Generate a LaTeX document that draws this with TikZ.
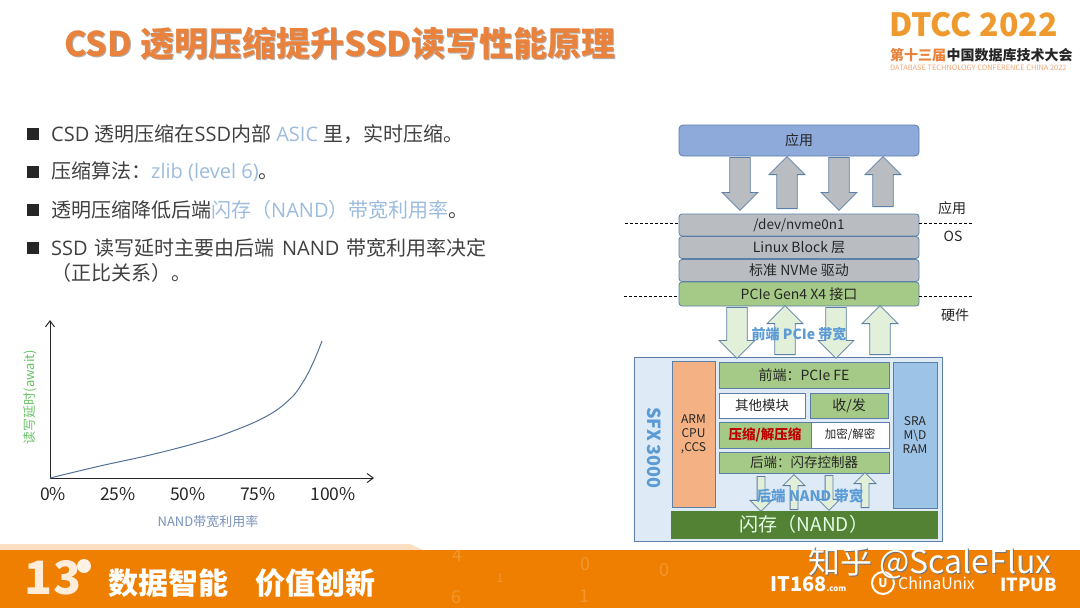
\documentclass[tikz,border=0pt]{standalone}
\usepackage{fontspec}
\setmainfont{Noto Sans CJK SC}
\newfontfamily\latf{Open Sans}
\usetikzlibrary{arrows.meta,positioning,shapes.arrows}
\definecolor{bandorg}{HTML}{EF7F00}
\definecolor{bandpale}{HTML}{FBDFC3}
\definecolor{titleorg}{HTML}{E8823C}
\definecolor{logoorg}{HTML}{EE9A2E}
\definecolor{bodygray}{HTML}{404040}
\definecolor{linkblue}{HTML}{9DBBDC}
\definecolor{boxblue}{HTML}{8EAADB}
\definecolor{edgeblue}{HTML}{5B7FA6}
\definecolor{boxgray}{HTML}{B9BDC2}
\definecolor{boxgreen}{HTML}{A5C986}
\definecolor{palegreen}{HTML}{E2EFD9}
\definecolor{paleblue}{HTML}{DEEAF6}
\definecolor{sramblue}{HTML}{9DC3E6}
\definecolor{armorange}{HTML}{F4B183}
\definecolor{nandgreen}{HTML}{548235}
\definecolor{bwblue}{HTML}{5B9BD5}
\newcommand{\fs}[1]{\fontsize{#1}{#1}\selectfont}
\tikzset{
  blk/.style={draw=edgeblue,rectangle,rounded corners=2pt,line width=0.8pt,inner sep=0pt,align=center,text=black!85},
  appblk/.style={blk,fill=boxblue,minimum width=240pt,minimum height=31pt,rounded corners=4pt,font=\fs{14}},
  osblk/.style={blk,fill=boxgray,minimum width=240pt,minimum height=22pt,rounded corners=3pt,font=\fs{14}},
  ifblk/.style={blk,fill=boxgreen,minimum width=240pt,minimum height=24pt,rounded corners=3pt,font=\fs{14}},
  ssdblk/.style={blk,rounded corners=0pt,fill=boxgreen},
  whtblk/.style={ssdblk,fill=white},
  sidblk/.style={ssdblk,font=\fs{12},align=center},
  barr/.style={single arrow,draw=edgeblue,line width=0.8pt,inner xsep=0pt,inner ysep=9pt,single arrow head indent=0pt,minimum width=36pt,anchor=tail},
  gdown/.style={barr,fill=boxgray,rotate=-90,minimum height=53pt},
  gup/.style={barr,fill=boxgray,rotate=90,minimum height=52pt},
  fdown/.style={gdown,fill=palegreen,minimum height=51pt},
  fup/.style={gup,fill=palegreen,minimum height=49pt},
  sdown/.style={barr,fill=palegreen,rotate=-90,inner ysep=3.5pt,minimum width=16pt,minimum height=35pt},
  sup/.style={sdown,rotate=180},
  bullet/.style={anchor=west,inner sep=0pt,font=\fs{20},text=bodygray},
  bmark/.style={fill=black!85,minimum size=11.5pt,inner sep=0pt,rectangle},
  lbl/.style={font=\fs{14},inner sep=0pt,text=black!85},
  tick/.style={font=\fs{17.5},inner sep=0pt,text=black!85},
  bwlbl/.style={font=\fs{14}\bfseries,text=bwblue,inner sep=0pt},
  sep/.style={densely dashed,line width=0.8pt},
  axis/.style={-{Straight Barb[length=6pt,width=9pt]},line width=1pt,black!85},
  faint/.style={font=\fs{18},text=white,opacity=0.18,inner sep=0pt}
}
\begin{document}
\begin{tikzpicture}[x=1pt,y=-1pt]
  \useasboundingbox (0,0) rectangle (1080,608);

  % band at the foot
  \fill[bandpale] (0,544) -- (410,544) -- (425,551) -- (0,551) -- cycle;
  \fill[bandorg] (0,550) rectangle (1080,608);
  \node[faint] (n4) at (457,555) {4};
  \node[faint,font=\fs{12}] (n1) at (500,578) {1};
  \node[faint] (n6) at (456,597) {6};
  \node[faint] (n0a) at (585,564) {0};
  \node[faint] (n0b) at (664,570) {0};
  \node[faint] (n1b) at (584,596) {1};

  % title
  \node[font=\fs{34}\bfseries,text=black!30,inner sep=0pt] (ttlshd) at (341,45) {CSD 透明压缩提升SSD读写性能原理};
  \node[font=\fs{34}\bfseries,text=titleorg,inner sep=0pt] (ttl) at (340,44) {CSD 透明压缩提升SSD读写性能原理};

  % logo
  \node[font=\fs{32}\bfseries,text=logoorg,inner sep=0pt,anchor=west] (dtcc) at (889,25) {DTCC 2022};
  \node[font=\fs{14}\bfseries,text=titleorg,inner sep=0pt,anchor=west] (dtcca) at (890,55) {第十三届};
  \node[font=\fs{14}\bfseries,text=black!85,inner sep=0pt,right=0pt of dtcca] (dtccb) {中国数据库技术大会};
  \node[font=\fs{7.4},text=titleorg!70,inner sep=0pt,anchor=west] (dtccc) at (890,68) {DATABASE TECHNOLOGY CONFERENCE CHINA 2022};

  % bullets
  \foreach \nm/\yy in {a/134,b/172,c/210,d/248}
    \node[bmark] (m\nm) at (33,\yy) {};
  \node[bullet] (ba) at (51,134) {{\latf CSD }透明压缩在{\latf SSD}内部{\latf\ \textcolor{linkblue}{ASIC} }里，实时压缩。};
  \node[bullet] (bb) at (51,172) {压缩算法：{\latf\color{linkblue}zlib (level 6)}。};
  \node[bullet] (bc) at (51,210) {透明压缩降低后端\textcolor{linkblue}{闪存（{\latf NAND}）带宽利用率}。};
  \node[bullet] (bd) at (51,248) {{\latf SSD\hspace{2pt} }读写延时主要由后端{\latf\hspace{2pt}\ NAND\hspace{2pt} }带宽利用率决定};
  \node[bullet] (be) at (51,273) {（正比关系）。};

  % chart
  \coordinate (org) at (50,478);
  \coordinate (ytop) at (50,320);
  \coordinate (xend) at (374,478);
  \draw[axis] (org)--(ytop);
  \draw[axis] (org)--(xend);
  \draw[edgeblue!90!black,line width=1pt] plot[smooth,tension=0.7] coordinates {(50,478) (100,466) (150,455) (200,442) (233,431) (267,416) (290,399) (303,382) (313,363) (322,341)};
  \node[tick] (t0) at (53,494) {0\%};
  \node[tick] (t25) at (118,494) {25\%};
  \node[tick] (t50) at (188,494) {50\%};
  \node[tick] (t75) at (258,494) {75\%};
  \node[tick] (t100) at (333,494) {100\%};
  \node[font=\fs{13},text=boxblue!85!black,inner sep=0pt] (xlab) at (208,522) {NAND带宽利用率};
  \node[font=\fs{13},text=green!60!black!60,inner sep=0pt,rotate=90] (ylab) at (30,397) {读写延时(await)};

  % stack
  \node[appblk] (app) at (799,140.5) {应用};
  \node[osblk,font=\fs{13.5}] (nvme) at (799,225) {/dev/nvme0n1};
  \node[osblk] (block) at (799,247.5) {Linux Block 层};
  \node[osblk] (drv) at (799,270.5) {标准 NVMe 驱动};
  \node[ifblk] (pcie) at (799,294) {PCIe Gen4 X4 接口};

  \node[gdown] (ga) at (740,157) {};
  \node[gup] (gb) at (787,209) {};
  \node[gdown] (gc) at (839,157) {};
  \node[gup,minimum height=50pt] (gd) at (883,207) {};

  \coordinate (sla) at (625,223);
  \coordinate (sra) at (973,223);
  \coordinate (slb) at (624,296);
  \coordinate (srb) at (973,296);
  \draw[sep] (sla)--(nvme.west|-sla);
  \draw[sep] (nvme.east|-sra)--(sra);
  \draw[sep] (slb)--(pcie.west|-slb);
  \draw[sep] (pcie.east|-srb)--(srb);
  \node[lbl] (lapp) at (952,208) {应用};
  \node[lbl] (los) at (953,236) {OS};
  \node[lbl] (lhw) at (955,315) {硬件};

  % ssd
  \node[ssdblk,fill=paleblue,minimum width=308pt,minimum height=184pt] (ssd) at (788,449) {};
  \node[fdown] (fa) at (737,307) {};
  \node[fup] (fb) at (785,355) {};
  \node[fdown] (fc) at (836,307) {};
  \node[fup] (fd) at (880,355) {};
  \node[bwlbl] (lfe) at (799,334) {前端 PCIe 带宽};
  \node[font=\fs{18}\bfseries,text=bwblue,inner sep=0pt,rotate=-90] (sfx) at (654,448) {SFX 3000};

  \node[sidblk,fill=armorange,minimum width=43pt,minimum height=146pt] (arm) at (693.5,434) {ARM\\[2pt]CPU\\[2pt],CCS};
  \node[sidblk,fill=sramblue,minimum width=44pt,minimum height=146pt] (sram) at (915,435) {SRA\\[2pt]M\textbackslash D\\[2pt]RAM};
  \node[ssdblk,minimum width=170pt,minimum height=26pt,font=\fs{14}] (fe) at (804,375) {前端：PCIe FE};
  \node[whtblk,minimum width=86pt,minimum height=25pt,font=\fs{13.5}] (misc) at (762,405.5) {其他模块};
  \node[ssdblk,minimum width=78pt,minimum height=25pt,font=\fs{14}] (txrx) at (849,405.5) {收/发};
  \node[ssdblk,minimum width=92pt,minimum height=26pt,font=\fs{13.5}\bfseries,text=red!75!black] (comp) at (765,435) {压缩/解压缩};
  \node[whtblk,minimum width=78pt,minimum height=26pt,font=\fs{11.5}] (enc) at (850,435) {加密/解密};
  \node[ssdblk,minimum width=170pt,minimum height=21pt,font=\fs{13.5}] (be) at (804,462.5) {后端：闪存控制器};
  \node[sdown] (sa) at (761,476) {};
  \node[sup] (sb) at (794,510) {};
  \node[sdown] (sc) at (829,475) {};
  \node[sup] (sd) at (865,508) {};
  \node[bwlbl,font=\fs{14.5}\bfseries] (lbe) at (810,496) {后端 NAND 带宽};
  \node[ssdblk,fill=nandgreen,draw=nandgreen,minimum width=266pt,minimum height=27pt,font=\fs{19},text=white!90!green] (nand) at (804,524.5) {闪存（NAND）};

  % foot texts
  \node[font=\fs{46}\bfseries,text=white!85!orange,inner sep=0pt] (thr) at (53,578) {13};
  \node[circle,fill=white!90!orange,minimum size=14pt,inner sep=0pt] (thrc) at (84,566) {};
  \node[font=\fs{30}\bfseries,text=white,inner sep=0pt,anchor=west] (slg) at (108,583) {数据智能\hspace{27pt}价值创新};
  \node[font=\fs{20}\bfseries\itshape,text=white,inner sep=0pt,anchor=west] (ita) at (770,584) {IT168\fs{8}.com};
  \node[circle,draw=white,line width=2pt,minimum size=22pt,inner sep=0pt,font=\fs{12}\bfseries,text=white] (cu) at (883,583) {U};
  \node[font=\fs{16},text=white,inner sep=0pt,right=3pt of cu] (cun) {ChinaUnix};
  \node[font=\fs{18}\bfseries\itshape,text=white,inner sep=0pt,anchor=west] (itp) at (1000,585) {ITPUB};
  \node[font=\fs{32},text=black!55,inner sep=0pt] (wmk) at (930.8,563.8) {知乎 @ScaleFlux};
  \node[font=\fs{32},text=white,inner sep=0pt] (wmt) at (930,563) {知乎 @ScaleFlux};
\end{tikzpicture}
\end{document}
